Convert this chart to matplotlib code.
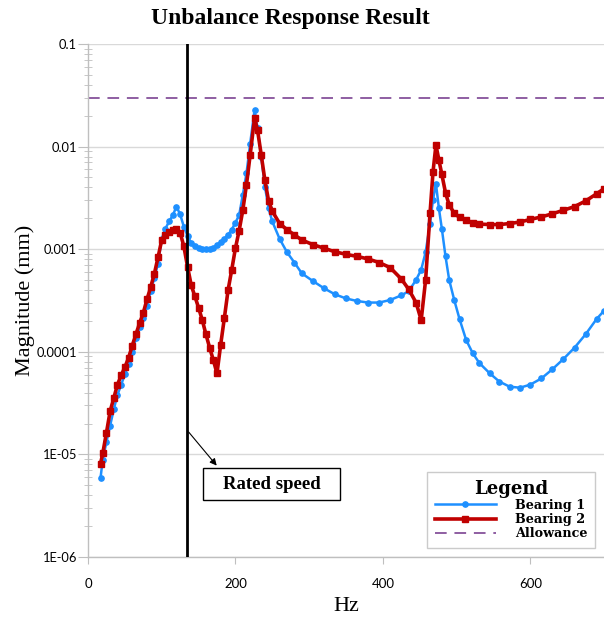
import numpy as np
import matplotlib
matplotlib.use('Agg')
import matplotlib.pyplot as plt
from matplotlib.patches import Rectangle

# frequency grid (Hz) and log10 of magnitude (mm)
freq = [17, 20, 25, 30, 35, 40, 45, 50, 55, 60, 65, 70, 75, 80, 85, 90, 95, 100,
        105, 110, 115, 120, 125, 130, 135, 140, 145, 150, 155, 160, 165, 170, 175,
        180, 185, 190, 195, 200, 205, 210, 215, 220, 226, 230, 235, 240, 245, 250,
        260, 270, 280, 290, 305, 320, 335, 350, 365, 380, 395, 410, 425, 435, 445,
        452, 458, 464, 468, 472, 476, 480, 485, 490, 497, 504, 513, 522, 531, 545,
        558, 572, 586, 600, 615, 630, 645, 660, 675, 690, 700]

bearing1_log = [-5.23, -5.05, -4.88, -4.72, -4.56, -4.42, -4.32, -4.22, -4.12, -4.00,
                -3.87, -3.755, -3.67, -3.55, -3.41, -3.28, -3.14, -2.90, -2.80, -2.73,
                -2.67, -2.585, -2.66, -2.78, -2.87, -2.94, -2.965, -2.985, -2.995, -3.00,
                -2.995, -2.985, -2.96, -2.93, -2.90, -2.86, -2.81, -2.74, -2.67, -2.47,
                -2.26, -1.97, -1.64, -1.82, -2.10, -2.39, -2.60, -2.73, -2.90, -3.03,
                -3.13, -3.235, -3.31, -3.38, -3.44, -3.48, -3.505, -3.52, -3.52, -3.495,
                -3.45, -3.41, -3.30, -3.20, -3.03, -2.75, -2.52, -2.36, -2.60, -2.80,
                -3.07, -3.30, -3.50, -3.68, -3.885, -4.015, -4.11, -4.21, -4.29, -4.34,
                -4.35, -4.32, -4.26, -4.17, -4.07, -3.96, -3.83, -3.68, -3.60]

bearing2_log = [-5.09, -4.99, -4.79, -4.58, -4.45, -4.32, -4.23, -4.15, -4.06, -3.94,
                -3.83, -3.72, -3.62, -3.49, -3.37, -3.24, -3.08, -2.91, -2.86, -2.835,
                -2.81, -2.80, -2.84, -2.97, -3.17, -3.35, -3.46, -3.57, -3.69, -3.83,
                -3.96, -4.08, -4.21, -3.93, -3.67, -3.40, -3.20, -2.99, -2.82, -2.62,
                -2.37, -2.08, -1.72, -1.84, -2.08, -2.33, -2.53, -2.63, -2.75, -2.81,
                -2.86, -2.91, -2.955, -2.99, -3.025, -3.05, -3.07, -3.095, -3.13, -3.18,
                -3.29, -3.39, -3.52, -3.69, -3.30, -2.65, -2.25, -1.985, -2.13, -2.27,
                -2.45, -2.57, -2.65, -2.69, -2.72, -2.74, -2.755, -2.76, -2.76, -2.75,
                -2.735, -2.71, -2.685, -2.655, -2.62, -2.585, -2.53, -2.46, -2.41]

allowance = 0.03
rated_speed = 134

ytick_vals = [1e-6, 1e-5, 1e-4, 1e-3, 1e-2, 1e-1]
ytick_labels = ['1E-06', '1E-05', '0.0001', '0.001', '0.01', '0.1']
xtick_vals = [0, 200, 400, 600]

bearing1 = 10 ** np.array(bearing1_log)
bearing2 = 10 ** np.array(bearing2_log)

fig = plt.figure(figsize=(6.04, 6.17), dpi=100)
ax = fig.add_axes([88 / 604, 1 - 557 / 617, 1 - 88 / 604, (557 - 44) / 617])

ax.set_yscale('log')
ax.set_xlim(0, 700)
ax.set_ylim(1e-6, 0.1)

# gridlines at decades
for v in ytick_vals:
    ax.axhline(v, color='#d9d9d9', lw=1, zorder=0)

ax.plot(freq, bearing1, color='#1e90ff', lw=1.8, marker='o', ms=3.8,
        label='Bearing 1', zorder=3)
ax.plot(freq, bearing2, color='#c00000', lw=2.6, marker='s', ms=4.6,
        label='Bearing 2', zorder=4)
ax.axhline(allowance, color='#8e5ea2', lw=1.4, ls=(0, (6, 4)),
           label='Allowance', zorder=2)

ax.axvline(rated_speed, color='black', lw=2, zorder=5)

for s in ['top', 'right']:
    ax.spines[s].set_visible(False)
for s in ['left', 'bottom']:
    ax.spines[s].set_color('#bfbfbf')
    ax.spines[s].set_linewidth(1)

ax.set_yticks(ytick_vals)
ax.set_yticklabels(ytick_labels)
ax.set_xticks(xtick_vals)
ax.tick_params(axis='y', which='major', length=7, color='#bfbfbf', pad=1,
               labelsize=9.3)
ax.tick_params(axis='y', which='minor', direction='inout', length=6,
               color='#bfbfbf')
ax.tick_params(axis='x', length=5, color='#bfbfbf', pad=10, labelsize=9.5)
for lab in ax.get_xticklabels() + ax.get_yticklabels():
    lab.set_fontfamily('Lato')

ax.set_xlabel('Hz', family='Liberation Serif', fontsize=16, labelpad=5)
ax.set_ylabel('Magnitude (mm)', family='Liberation Serif', fontsize=16,
              labelpad=1)
fig.text(0.48, 0.97, 'Unbalance Response Result', family='Liberation Serif',
         fontsize=17, fontweight='bold', ha='center', va='center')

# rated speed callout
ax.annotate('', xy=(177, 10 ** -5.13), xytext=(rated_speed, 10 ** -4.76),
            arrowprops=dict(arrowstyle='-|>', color='black', lw=0.8,
                            mutation_scale=10))
ax.add_patch(Rectangle((156, 10 ** -5.444), 186, 10 ** -5.133 - 10 ** -5.444,
                       fc='white', ec='black', lw=1, zorder=6))
ax.text(249, 10 ** -5.29, 'Rated speed', family='Liberation Serif',
        fontsize=13.5, fontweight='bold', ha='center', va='center', zorder=7)

leg = ax.legend(loc='lower right', bbox_to_anchor=(0.983, 0.0175),
                borderaxespad=0, title='Legend', frameon=True, fancybox=False,
                handlelength=4.8, borderpad=0.6, labelspacing=0.1,
                handletextpad=1.5,
                prop=dict(family='DejaVu Serif', weight='bold', size=9.2),
                title_fontproperties=dict(family='DejaVu Serif',
                                          weight='bold', size=13))
leg.get_frame().set_edgecolor('#bfbfbf')
leg.get_frame().set_linewidth(1)

plt.savefig('out.png', dpi=100)
